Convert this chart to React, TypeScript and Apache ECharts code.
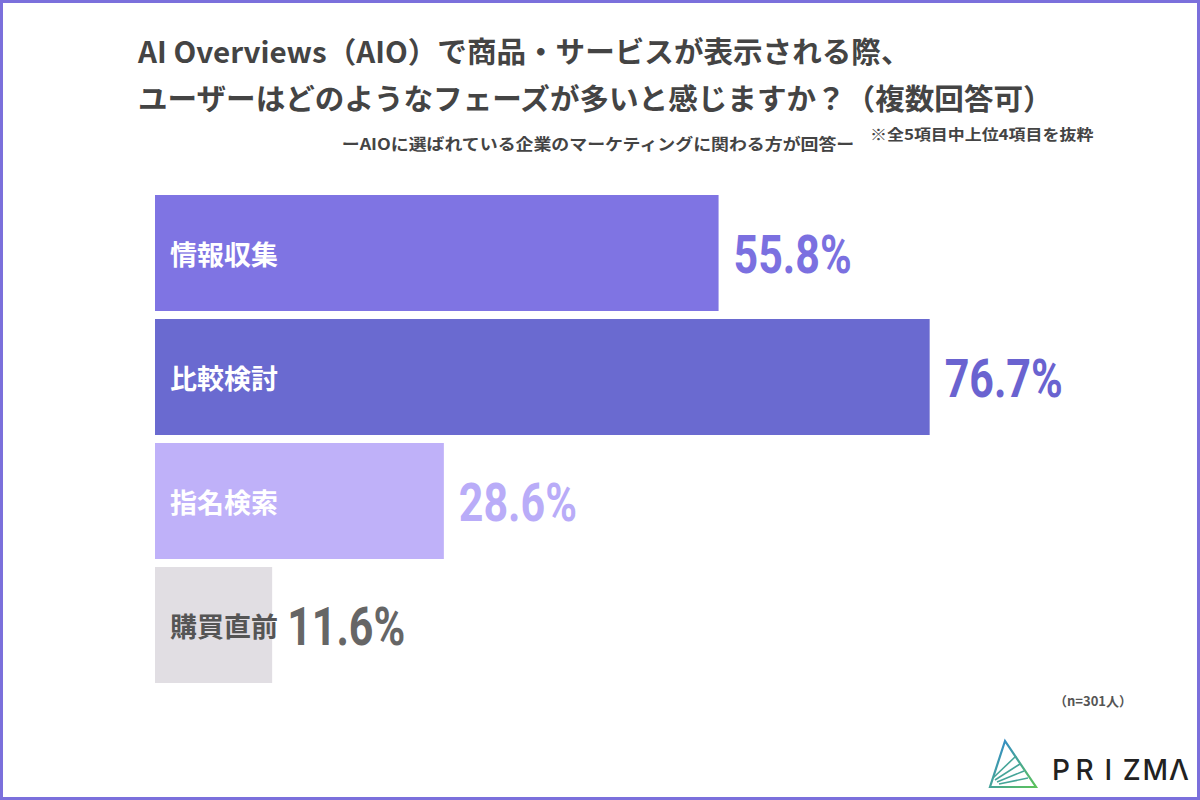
import React, { useEffect, useRef } from "react";
import * as echarts from "echarts";

const categories = ["情報収集", "比較検討", "指名検索", "購買直前"];
const values = [55.8, 76.7, 28.6, 11.6];
const barColors = ["#7f74e3", "#6a6ad0", "#bfb1f9", "#e1dee3"];
const nameColors = ["#ffffff", "#ffffff", "#ffffff", "#555555"];
const valueColors = ["#7b70e0", "#6a63d0", "#b9acf8", "#666666"];

const titleLines = [
  "AI Overviews（AIO）で商品・サービスが表示される際、",
  "ユーザーはどのようなフェーズが多いと感じますか？（複数回答可）",
];
const subtitle = "ーAIOに選ばれている企業のマーケティングに関わる方が回答ー";
const note = "※全5項目中上位4項目を抜粋";
const sampleNote = "（n=301人）";
const logoLetters = ["P", "R", "I", "Z", "M", "Λ"];

const JP = "'Noto Sans CJK JP', 'Noto Sans', sans-serif";
const NUM = "Roboto, 'DejaVu Sans', sans-serif";

export default function App() {
  const ref = useRef<HTMLDivElement>(null);
  useEffect(() => {
    document.body.style.margin = "0";
    const chart = echarts.init(ref.current!, null, { renderer: "svg" });
    const grad = new echarts.graphic.LinearGradient(0, 0, 1, 1, [
      { offset: 0, color: "#2f86d6" },
      { offset: 1, color: "#5cc25a" },
    ]);
    const option: any = {
      animation: false,
      backgroundColor: "#ffffff",
      grid: { left: 155, right: 35, top: 191, height: 496 },
      xAxis: { type: "value", min: 0, max: 100, show: false },
      yAxis: {
        type: "category",
        data: categories,
        inverse: true,
        show: false,
      },
      series: [
        {
          type: "bar",
          barWidth: 116,
          data: values.map((v, i) => ({
            value: v,
            itemStyle: { color: barColors[i] },
            label: { color: nameColors[i] },
          })),
          label: {
            show: true,
            position: "insideLeft",
            distance: 15,
            formatter: "{b}",
            fontFamily: JP,
            fontWeight: "bold",
            fontSize: 27,
          },
          z: 2,
        },
        {
          type: "custom",
          data: values.map((v, i) => [v, i]),
          renderItem: (params: any, api: any) => {
            const v = api.value(0);
            const idx = api.value(1);
            const pt = api.coord([v, idx]);
            return {
              type: "text",
              x: pt[0] + 15,
              y: pt[1] + 2,
              scaleX: 0.81,
              style: {
                text: v.toFixed(1) + "%",
                font: `bold 53px ${NUM}`,
                fill: valueColors[idx],
                verticalAlign: "middle",
                align: "left",
              },
            };
          },
          z: 3,
        },
      ],
      graphic: [
        {
          type: "rect",
          shape: { x: 1.5, y: 1.5, width: 1197, height: 797 },
          style: { fill: "none", stroke: "#7b70dc", lineWidth: 3 },
          silent: true,
        },
        {
          type: "text",
          x: 138,
          y: 50,
          scaleX: 1.02,
          style: {
            text: titleLines[0],
            font: `bold 29px ${JP}`,
            fill: "#444444",
            verticalAlign: "middle",
          },
        },
        {
          type: "text",
          x: 138,
          y: 97,
          scaleX: 1.02,
          style: {
            text: titleLines[1],
            font: `bold 29px ${JP}`,
            fill: "#444444",
            verticalAlign: "middle",
          },
        },
        {
          type: "text",
          x: 598,
          y: 143,
          scaleX: 1.12,
          style: {
            text: subtitle,
            font: `bold 16px ${JP}`,
            fill: "#444444",
            align: "center",
            verticalAlign: "middle",
          },
        },
        {
          type: "text",
          x: 870,
          y: 133,
          scaleX: 1.13,
          style: {
            text: note,
            font: `bold 15px ${JP}`,
            fill: "#444444",
            verticalAlign: "middle",
          },
        },
        {
          type: "text",
          x: 1132,
          y: 700,
          style: {
            text: sampleNote,
            font: `bold 13px ${JP}`,
            fill: "#555555",
            align: "right",
            verticalAlign: "middle",
          },
        },
        {
          type: "polygon",
          shape: { points: [[1005, 741], [990, 787], [1036, 787]] },
          style: { fill: "none", stroke: grad, lineWidth: 2.2 },
        },
        ...[
          [[993, 778], [1016, 756]],
          [[995, 780], [1020, 764]],
          [[997, 782], [1024, 771]],
          [[999, 784], [1028, 778]],
        ].map((pts) => ({
          type: "polyline",
          shape: { points: pts },
          style: { stroke: grad, lineWidth: 1.6, fill: "none" },
        })),
        ...logoLetters.map((ch, i) => ({
          type: "text",
          x: 1061 + i * 23.6,
          y: 770,
          style: {
            text: ch,
            font: `500 28px Inter, 'DejaVu Sans', sans-serif`,
            fill: "#222222",
            align: "center",
            verticalAlign: "middle",
          },
        })),
      ],
    };
    chart.setOption(option);
    return () => chart.dispose();
  }, []);
  return <div ref={ref} style={{ width: 1200, height: 800 }} />;
}
